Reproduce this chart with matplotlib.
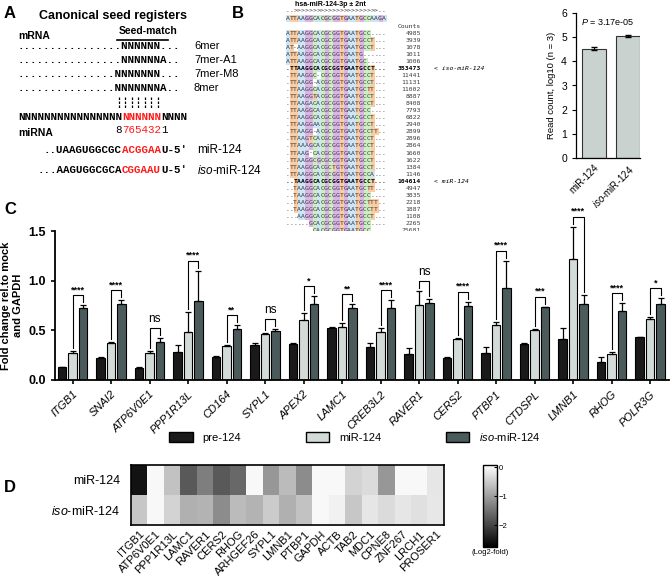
import numpy as np
import matplotlib.pyplot as plt
from matplotlib.patches import Patch

plt.rcParams['font.family'] = ['Liberation Sans', 'DejaVu Sans']
plt.rcParams['mathtext.fontset'] = 'custom'
plt.rcParams['mathtext.rm'] = 'Liberation Sans'
plt.rcParams['mathtext.it'] = 'Liberation Sans:italic'

# ---- panel B: isomiR alignment ----
ref_marks = "..>>>>>>>>>>>>>>>>>>>>>>.."
ref_seq = "ATTAAGGCACGCGGTGAATGCCAAGA"
reads = [
    "ATTAAGGCACGCGGTGAATGCC....",
    "ATTAAGGCACGCGGTGAATGCCT...",
    "AT-AAGGCACGCGGTGAATGCCT...",
    "ATTAAGGCACGCGGTGAATG......",
    "ATTAAGGCACGCGGTGAATGC.....",
    ".TTAAGGCACGCGGTGAATGCCT...",
    ".TTAAGGC-CGCGGTGAATGCCT...",
    ".TTAAGG-ACGCGGTGAATGCCT...",
    ".TTAAGGCACGCGGTGAATGCTT...",
    ".TTAAGGTACGCGGTGAATGCCT...",
    ".TTAAGACACGCGGTGAATGCCT...",
    ".TTAAGGCACGCGGTGAATGCC....",
    ".TTAAGGCACGCGGTGAACGCCT...",
    ".TTAAGGAACGCGGTGAATGCCT...",
    ".TTAAGG-ACGCGGTGAATGCCTT..",
    ".TTAAGTCACGCGGTGAATGCCT...",
    ".TTAAAGCACGCGGTGAATGCCT...",
    ".TTAAG-CACGCGGTGAATGCCT...",
    ".TTAAGGCGCGCGGTGAATGCCT...",
    ".TTAAGGCACGCTGTGAATGCCT...",
    ".TTAAGGCACGCGGTGAATGCCA...",
    "..TAAGGCACGCGGTGAATGCCT...",
    "..TAAGGCACGCGGTGAATGCTT...",
    "..TAAGGCACGCGGTGAATGCC....",
    "..TAAGGCACGCGGTGAATGCTTT..",
    "..TAAGGCACGCGGTGAATGCCTT..",
    "...AAGGCACGCGGTGAATGCCT...",
    "......GCACGCGGTGAATGCC....",
    ".......CACGCGGTGAATGCC....",
    "........ACGCGGTGAATGCC....",
]
counts = [4985, 3939, 1078, 1011, 1006, 353473, 11441, 11131, 11002, 8887,
          8408, 7793, 6822, 2940, 2899, 2896, 2864, 1660, 1622, 1384,
          1146, 104614, 4947, 3835, 2218, 1887, 1108, 2265, 25681, 3099]
marked = {5: "iso-miR-124", 21: "miR-124"}

# ---- panel B: read counts ----
b_names = ["miR-124", r"$\it{iso}$-miR-124"]
b_vals = [4.53, 5.06]
b_err = [0.06, 0.05]

# ---- panel C: qPCR ----
genes = ["ITGB1", "SNAI2", "ATP6V0E1", "PPP1R13L", "CD164", "SYPL1", "APEX2",
         "LAMC1", "CREB3L2", "RAVER1", "CERS2", "PTBP1", "CTDSPL", "LMNB1",
         "RHOG", "POLR3G"]
pre = [0.13, 0.22, 0.125, 0.285, 0.235, 0.352, 0.362, 0.526, 0.33, 0.26,
       0.225, 0.272, 0.362, 0.41, 0.184, 0.43]
pre_err = [0.005, 0.01, 0.005, 0.07, 0.01, 0.02, 0.015, 0.005, 0.04, 0.065,
           0.005, 0.057, 0.01, 0.117, 0.05, 0.0]
mir = [0.275, 0.375, 0.275, 0.485, 0.34, 0.463, 0.604, 0.536, 0.48, 0.755,
       0.412, 0.553, 0.503, 1.214, 0.258, 0.61]
mir_err = [0.02, 0.01, 0.02, 0.2, 0.015, 0.01, 0.07, 0.04, 0.04, 0.14,
           0.01, 0.034, 0.01, 0.33, 0.02, 0.027]
iso = [0.72, 0.765, 0.38, 0.795, 0.515, 0.493, 0.762, 0.72, 0.727, 0.778,
       0.74, 0.929, 0.731, 0.77, 0.694, 0.762]
iso_err = [0.035, 0.04, 0.04, 0.305, 0.035, 0.02, 0.08, 0.045, 0.075, 0.037,
           0.047, 0.27, 0.005, 0.09, 0.077, 0.06]
sig = ["****", "****", "ns", "****", "**", "ns", "*", "**", "****", "ns",
       "****", "****", "***", "****", "****", "*"]

# ---- panel D: heatmap (log2 fold) ----
hm_genes = ["ITGB1", "ATP6V0E1", "PPP1R13L", "LAMC1", "RAVER1", "CERS2", "RHOG",
            "ARHGEF26", "SYPL1", "LMNB1", "PTBP1", "GAPDH", "ACTB", "TAB2",
            "MDC1", "CPNE8", "ZNF267", "LRCH1", "PROSER1"]
hm_mir = [-2.55, 0.0, -0.6, -1.75, -1.35, -1.75, -1.6, 0.0, -1.08, -0.68,
          -1.2, 0.0, 0.0, -0.4, -0.32, -1.08, 0.0, 0.0, -0.2]
hm_iso = [-0.54, 0.0, -0.4, -0.8, -0.75, -1.2, -0.68, -0.75, -0.5, -0.8,
          -0.6, 0.0, -0.08, -0.54, -0.2, -0.32, -0.2, -0.27, -0.19]

fig = plt.figure(figsize=(6.72, 5.82), dpi=100)

# overlay in pixel units for the text panels
ov = fig.add_axes([0, 0, 1, 1])
ov.axis('off')

for lab, (x, y) in zip("ABCD", [(4, 13), (232, 13), (4, 210), (4, 487)]):
    ov.text(x, y, lab, fontsize=12, weight='bold', va='center')

# panel A
mono = dict(family='Liberation Mono', weight='bold', fontsize=7.8, va='center', ha='left')
cw, x0 = 6.5, 18
red = '#ff1a1a'
ov.text(113, 16, "Canonical seed registers", fontsize=9, weight='bold', ha='center', va='center')
ov.text(148, 31, "Seed-match", fontsize=7.5, weight='bold', ha='center', va='center')
ov.plot([117, 168], [39.5, 39.5], color='black', lw=1.2)
ov.text(18, 36, "mRNA", fontsize=7.5, weight='bold', va='center')
ov.text(18, 133, "miRNA", fontsize=7.5, weight='bold', va='center')
seed_rows = [("." * 16 + "NNNNNN" + "...", "6mer"),
             ("." * 16 + "NNNNNNA" + "..", "7mer-A1"),
             ("." * 15 + "NNNNNNN" + "...", "7mer-M8"),
             ("." * 15 + "NNNNNNNA" + "..", "8mer")]
for (s, name), y in zip(seed_rows, [46, 60, 74, 88]):
    ov.text(x0, y, s, **mono)
    ov.text(194, y, name, fontsize=8, va='center')
for i in range(15, 22):
    ov.plot([x0 + (i + 0.5) * cw] * 2, [97, 109], color='black', lw=0.9, ls=(0, (2, 1.2)))
for idx, s, c in [(0, "N" * 16, 'black'), (16, "N" * 6, red), (22, "N" * 4, 'black')]:
    ov.text(x0 + idx * cw, 117, s, color=c, **mono)
num = dict(mono, weight='normal')
for idx, s, c in [(15, "8", 'black'), (16, "765432", red), (22, "1", 'black')]:
    ov.text(x0 + idx * cw, 130, s, color=c, **num)
for y, parts in [(150, [(4, "..UAAGUGGCGC", 'black'), (16, "ACGGAA", red), (22, "U-5'", 'black')]),
                 (170, [(3, "...AAGUGGCGCA", 'black'), (16, "CGGAAU", red), (22, "U-5'", 'black')])]:
    for idx, s, c in parts:
        ov.text(x0 + idx * cw, y, s, color=c, **mono)
ov.text(197, 150, "miR-124", fontsize=8.5, va='center')
ov.text(197, 170, r"$\it{iso}$-miR-124", fontsize=8.5, va='center')

# panel B alignment
nt_col = {'A': (0.80, 0.90, 0.97), 'T': (0.99, 0.80, 0.64),
          'G': (0.86, 0.71, 0.91), 'C': (0.80, 0.94, 0.76)}
ax0, acw = 285.5, 3.85
ry0, rdy = 33.5, 7.03

def row_rgb(s):
    return [nt_col.get(ch, (1, 1, 1)) for ch in s]

ov.imshow([row_rgb(ref_seq)], extent=(ax0, ax0 + 26 * acw, 22, 15), aspect='auto',
          interpolation='nearest')
ov.imshow([row_rgb(r) for r in reads],
          extent=(ax0, ax0 + 26 * acw, ry0 + (len(reads) - 0.5) * rdy, ry0 - 0.5 * rdy),
          aspect='auto', interpolation='nearest')
small = dict(family='DejaVu Sans Mono', fontsize=4.6, va='center', ha='center')
ov.text(330, 4.5, "hsa-miR-124-3p \u00b1 2nt", fontsize=5, weight='bold', ha='center', va='center')
for j, ch in enumerate(ref_marks):
    ov.text(ax0 + (j + 0.5) * acw, 11, ch, color='#333333', **small)
for j, ch in enumerate(ref_seq):
    ov.text(ax0 + (j + 0.5) * acw, 18.5, ch, color='#333333', **small)
ov.text(421, 26.5, "Counts", family='DejaVu Sans Mono', fontsize=4.6, ha='right', va='center', color='#333333')
for i, (r, n) in enumerate(zip(reads, counts)):
    y = ry0 + i * rdy
    w = 'bold' if i in marked else 'normal'
    col = 'black' if i in marked else '#3c3c3c'
    for j, ch in enumerate(r):
        ov.text(ax0 + (j + 0.5) * acw, y, ch, color=col, weight=w, **small)
    ov.text(421, y, str(n), family='DejaVu Sans Mono', fontsize=4.6, ha='right', va='center',
            weight=w, color=col)
    if i in marked:
        ov.text(434, y, "< " + marked[i], family='DejaVu Sans Mono', fontsize=4.6,
                style='italic', va='center', color='black')
ov.set_xlim(0, 672)
ov.set_ylim(582, 0)

# panel B bars
axb = fig.add_axes([576 / 672, 1 - 158 / 582, 64 / 672, 145 / 582])
axb.bar([0, 1], b_vals, width=0.7, color='#c9d2cf', edgecolor='#333333', linewidth=0.8)
axb.errorbar([0, 1], b_vals, yerr=b_err, fmt='none', ecolor='black', elinewidth=0.8, capsize=2)
axb.set_xlim(-0.51, 1.35)
axb.set_ylim(0, 6)
axb.set_yticks(range(7))
axb.set_xticks([0, 1])
axb.set_xticklabels(b_names, rotation=45, ha='right', rotation_mode='anchor', fontsize=7)
axb.tick_params(axis='y', labelsize=7.5, length=3, width=0.8)
axb.tick_params(axis='x', length=0)
axb.set_ylabel("Read count, log10 (n = 3)", fontsize=6.8)
axb.text(0.08, 0.94, r"$\it{P}$ = 3.17e-05", transform=axb.transAxes, fontsize=6.5, va='center')
for s in ['top', 'right']:
    axb.spines[s].set_visible(False)
for s in ['left', 'bottom']:
    axb.spines[s].set_linewidth(0.9)

# panel C
axc = fig.add_axes([55 / 672, 1 - 380 / 582, 614 / 672, 149 / 582])
x = np.arange(len(genes))
off, bw = 0.27, 0.22
up = lambda e: [np.zeros(len(e)), e]
axc.bar(x - off, pre, bw, color='#1a1a1a', edgecolor='black', linewidth=0.8, label='pre-124')
axc.bar(x, mir, bw, color='#d3dbd8', edgecolor='black', linewidth=0.8, label='miR-124')
axc.bar(x + off, iso, bw, color='#4b5a5a', edgecolor='black', linewidth=0.8,
        label=r'$\it{iso}$-miR-124')
for xs, v, e in [(x - off, pre, pre_err), (x, mir, mir_err), (x + off, iso, iso_err)]:
    axc.errorbar(xs, v, yerr=up(np.array(e)), fmt='none', ecolor='black', elinewidth=0.9,
                 capsize=2, capthick=0.9, clip_on=False)
for i in range(len(genes)):
    a = mir[i] + mir_err[i]
    b = iso[i] + iso_err[i]
    h = max(a, b) + 0.1
    axc.plot([x[i], x[i], x[i] + off, x[i] + off], [a + 0.03, h, h, b + 0.03],
             color='black', lw=0.8, clip_on=False)
    if sig[i] == 'ns':
        axc.text(x[i] + off / 2, h + 0.03, 'ns', ha='center', va='bottom', fontsize=8.5)
    else:
        axc.text(x[i] + off / 2, h + 0.01, sig[i], ha='center', va='bottom', fontsize=6.5,
                 weight='bold')
axc.set_xlim(-0.455, 15.49)
axc.set_ylim(0, 1.5)
axc.set_yticks([0, 0.5, 1.0, 1.5])
axc.set_yticklabels(['0.0', '0.5', '1.0', '1.5'], fontsize=9, weight='bold')
axc.set_xticks(x)
axc.set_xticklabels(genes, rotation=45, ha='right', rotation_mode='anchor', fontsize=8,
                    style='italic')
axc.tick_params(axis='both', width=1.2, length=3)
axc.set_ylabel("Fold change rel.to mock\nand GAPDH", fontsize=8, weight='bold', labelpad=4)
for s in ['top', 'right']:
    axc.spines[s].set_visible(False)
for s in ['left', 'bottom']:
    axc.spines[s].set_linewidth(1.3)
fig.legend(handles=[Patch(facecolor='#1a1a1a', edgecolor='black', label='pre-124'),
                    Patch(facecolor='#d3dbd8', edgecolor='black', label='miR-124'),
                    Patch(facecolor='#4b5a5a', edgecolor='black', label=r'$\it{iso}$-miR-124')],
           loc='center', bbox_to_anchor=(355 / 672, 1 - 437 / 582), ncol=3, frameon=False,
           fontsize=8, handlelength=2.1, handleheight=1.0, handletextpad=0.9,
           columnspacing=5.8)

# panel D
axd = fig.add_axes([131 / 672, 1 - 525 / 582, 313 / 672, 60 / 582])
im = axd.imshow(np.array([hm_mir, hm_iso]), cmap='gray', vmin=-2.75, vmax=0.08,
                aspect='auto', interpolation='nearest')
axd.set_yticks([0, 1])
axd.set_yticklabels(["miR-124", r"$\it{iso}$-miR-124"], fontsize=9)
axd.set_xticks(np.arange(len(hm_genes)))
axd.set_xticklabels(hm_genes, rotation=45, ha='right', rotation_mode='anchor', fontsize=8)
axd.tick_params(length=0, pad=8)
axd.tick_params(axis='x', pad=3)
for s in axd.spines.values():
    s.set_linewidth(1.2)
cax = fig.add_axes([483 / 672, 1 - 547 / 582, 14 / 672, 82 / 582])
cb = fig.colorbar(im, cax=cax, ticks=[0, -1, -2])
cb.ax.tick_params(labelsize=5.5, length=2, width=0.8, direction='in', pad=1.5)
cb.outline.set_linewidth(1.0)
ov.text(490, 553, "(Log2-fold)", fontsize=5.5, ha='center', va='center')

fig.savefig("out.png", dpi=100)
